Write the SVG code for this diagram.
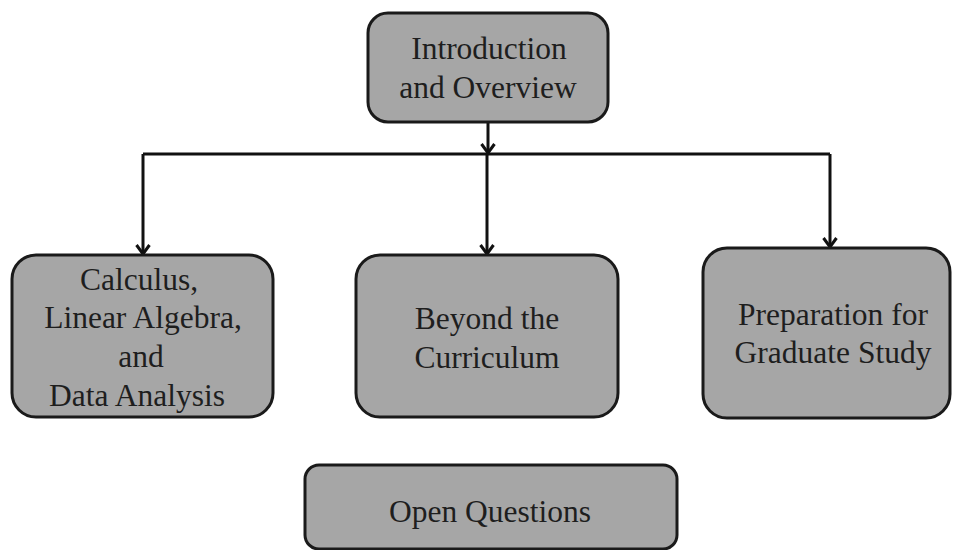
<svg xmlns="http://www.w3.org/2000/svg" width="956" height="550" viewBox="0 0 956 550">
<style>
.box{fill:#a6a6a6;stroke:#1a1a1a;stroke-width:3}
.t{font-family:"Liberation Serif","Times New Roman",serif;font-size:31.5px;fill:#1e1e1e;text-anchor:middle}
.c{fill:none;stroke:#111;stroke-width:3}
</style>
<defs>
<marker id="ah" markerWidth="16" markerHeight="16" viewBox="0 0 16 16" refX="13" refY="8" orient="auto" markerUnits="userSpaceOnUse">
<polyline points="4,1.5 13,8 4,14.5" fill="none" stroke="#111" stroke-width="3"/>
</marker>
</defs>
<rect width="956" height="550" fill="#fff"/>
<g id="connectors">
<path class="c" d="M488,122 V153" marker-end="url(#ah)"/>
<path class="c" d="M143,154 H830"/>
<path class="c" d="M143,154 V254" marker-end="url(#ah)"/>
<path class="c" d="M487,154 V254" marker-end="url(#ah)"/>
<path class="c" d="M830,154 V247" marker-end="url(#ah)"/>
</g>
<g id="intro">
<rect class="box" x="368" y="13" width="240" height="109" rx="20"/>
<text class="t" x="489" y="59">Introduction</text>
<text class="t" x="488" y="98">and Overview</text>
</g>
<g id="calculus">
<rect class="box" x="12" y="255" width="261" height="162" rx="24"/>
<text class="t" x="139" y="290">Calculus,</text>
<text class="t" x="143" y="328">Linear Algebra,</text>
<text class="t" x="141" y="367">and</text>
<text class="t" x="137" y="406">Data Analysis</text>
</g>
<g id="beyond">
<rect class="box" x="356" y="255" width="262" height="162" rx="24"/>
<text class="t" x="487" y="329">Beyond the</text>
<text class="t" x="487" y="368">Curriculum</text>
</g>
<g id="graduate">
<rect class="box" x="703" y="248" width="247" height="170" rx="24"/>
<text class="t" x="833" y="325">Preparation for</text>
<text class="t" x="833" y="363">Graduate Study</text>
</g>
<g id="open">
<rect class="box" x="305" y="465" width="372" height="84" rx="14"/>
<text class="t" x="490" y="522">Open Questions</text>
</g>
</svg>
